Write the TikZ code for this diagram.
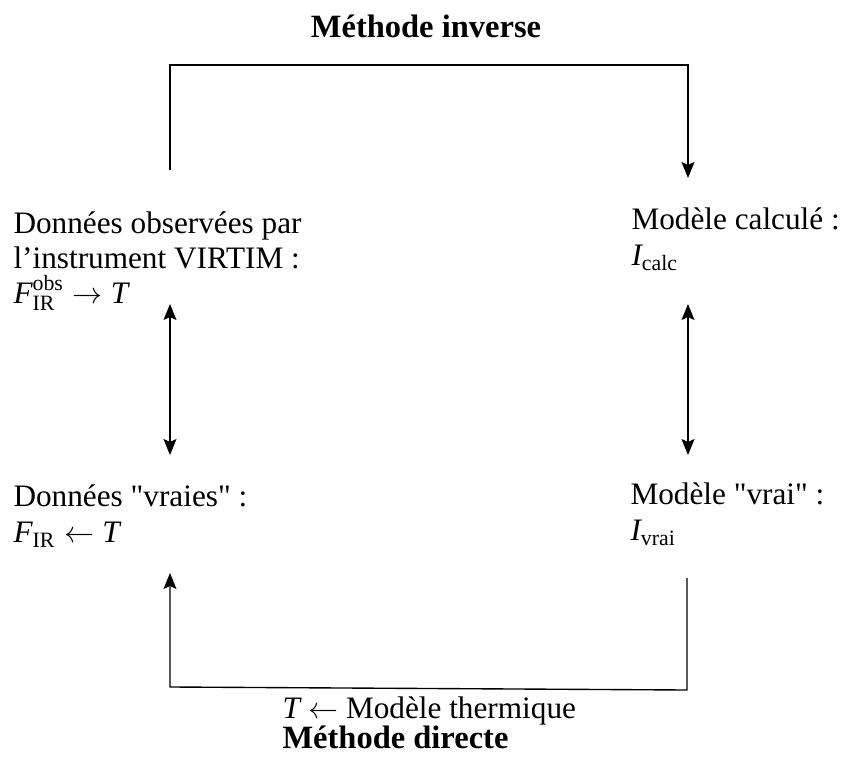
\documentclass[tikz,border=0pt]{standalone}
\usepackage{amsmath}
\usepackage{fontspec}
\setmainfont{Liberation Serif}
\usetikzlibrary{arrows.meta}
\newcommand{\mvar}[1]{\textit{#1}}
\begin{document}
\begin{tikzpicture}[x=0.4pt,y=-0.4pt,
  txt/.style={inner sep=0pt, align=left, anchor=north west, font=\fontsize{12.5}{14.6}\selectfont},
  ttl/.style={inner sep=0pt, anchor=base, font=\fontsize{13}{13.6}\selectfont\bfseries},
  conn/.style={line width=0.55pt, draw=black},
  tip/.style={-{Stealth[length=6.4pt,width=5.2pt,inset=1.2pt]}},
  dtip/.style={{Stealth[length=6.4pt,width=5.2pt,inset=1.2pt]}-{Stealth[length=6.4pt,width=5.2pt,inset=1.2pt]}}]
\useasboundingbox (0,0) rectangle (841,760);

% texts
\node[ttl] (inv) at (426,38) {Méthode inverse};
\node[txt, font=\fontsize{12.5}{14}\selectfont] (obs) at (13,211) {Données observées par\\ l’instrument VIRTIM :\\ $\mvar{F}_{\text{IR}}^{\text{obs}} \rightarrow \mvar{T}$};
\node[txt] (calc) at (631,207) {Modèle calculé :\\ $\mvar{I}_{\text{calc}}$};
\node[txt] (vraies) at (13,484) {Données \textquotedbl vraies\textquotedbl{} :\\ $\mvar{F}_{\text{IR}} \leftarrow \mvar{T}$};
\node[txt] (vrai) at (630,482) {Modèle \textquotedbl vrai\textquotedbl{} :\\ $\mvar{I}_{\text{vrai}}$};
\node[txt, font=\fontsize{12.5}{12}\selectfont] (dir) at (282,696) {$\mvar{T} \leftarrow$ Modèle thermique\\ {\fontsize{13}{12}\selectfont\bfseries Méthode directe}};

% connector end points
\coordinate (invS) at (170,170);
\coordinate (invTop) at (0,65);
\coordinate (invE) at (688,178);
\coordinate (lA) at (170,304);
\coordinate (lB) at (170,455);
\coordinate (rA) at (688,304);
\coordinate (rB) at (688,455);
\coordinate (dirS) at (687,578);
\coordinate (dirR) at (687,690);
\coordinate (dirL) at (170,687);
\coordinate (dirE) at (170,573);

% connectors
\draw[conn,tip] (invS) |- (invE |- invTop) -- (invE);
\draw[conn,dtip] (lA) -- (lB);
\draw[conn,dtip] (rA) -- (rB);
\draw[conn,tip] (dirS) -- (dirR) -- (dirL) -- (dirE);
\end{tikzpicture}
\end{document}
